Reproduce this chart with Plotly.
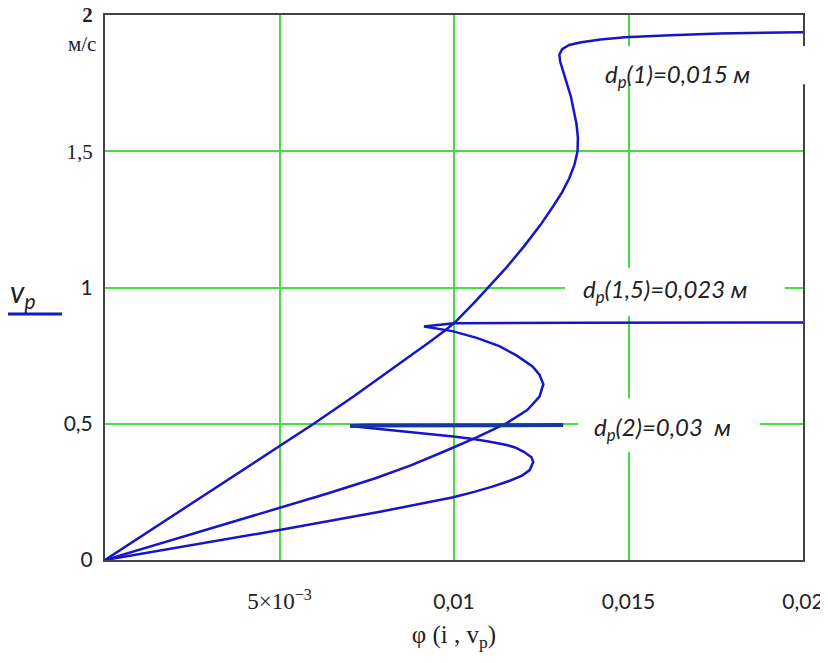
import plotly.graph_objects as go

# phi(i, v_p) vs v_p for three particle diameters
phi_d1 = [0, 0.0030, 0.0050, 0.00598, 0.00712, 0.00822, 0.0093, 0.00976, 0.01005, 0.01062,
          0.01098, 0.01148, 0.0120, 0.01248, 0.01285, 0.0131, 0.0133, 0.01345, 0.01354,
          0.01355, 0.01351, 0.01344, 0.01335, 0.01323, 0.01311, 0.01304, 0.01302, 0.0131,
          0.0133, 0.01365, 0.0142, 0.0149, 0.0162, 0.0176, 0.0200, 0.0206]
vp_d1 = [0, 0.25, 0.416, 0.50, 0.60, 0.70, 0.80, 0.844, 0.875, 0.95,
         1.00, 1.07, 1.15, 1.23, 1.30, 1.35, 1.40, 1.45, 1.50,
         1.55, 1.60, 1.65, 1.70, 1.75, 1.80, 1.83, 1.855, 1.875,
         1.89, 1.90, 1.91, 1.918, 1.926, 1.932, 1.937, 1.938]

phi_d15 = [0, 0.0050, 0.0064, 0.00775, 0.00878, 0.00975, 0.01065, 0.01148, 0.0121, 0.01245,
           0.01256, 0.01245, 0.01225, 0.0118, 0.0113, 0.01065, 0.00995, 0.00914,
           0.0100, 0.0135, 0.0206]
vp_d15 = [0, 0.19, 0.245, 0.30, 0.348, 0.40, 0.45, 0.50, 0.55, 0.60,
          0.645, 0.68, 0.71, 0.75, 0.785, 0.815, 0.84, 0.857,
          0.869, 0.871, 0.872]

phi_d2 = [0, 0.0050, 0.00788, 0.00998, 0.01058, 0.01112, 0.01158, 0.01195, 0.01217,
          0.01227, 0.01222, 0.0120, 0.01175, 0.01151, 0.01103, 0.0106, 0.00998, 0.00788,
          0.00702]
vp_d2 = [0, 0.110, 0.177, 0.230, 0.25, 0.27, 0.29, 0.31, 0.33,
         0.36, 0.377, 0.397, 0.413, 0.422, 0.434, 0.443, 0.453, 0.480,
         0.492]
phi_d2_tail = [0.00702, 0.0075, 0.01313]
vp_d2_tail = [0.492, 0.494, 0.495]

x_ticks = [0.005, 0.01, 0.015, 0.02]
x_labels = ["<span style='font-family:Liberation Serif;font-size:23px'>5×10<sup>−3</sup></span>",
            "0,01", "0,015", "0,02"]
y_ticks = [0, 0.5, 1, 1.5, 2]
y_labels = ["0", "0,5", "1",
            "<span style='font-family:Liberation Serif'>1,5</span>",
            "<span style='font-family:Liberation Serif'><b>2</b></span>"]

labels = ["d<sub>p</sub>(1)=0,015 м", "d<sub>p</sub>(1,5)=0,023 м", "d<sub>p</sub>(2)=0,03  м"]

BLUE = "#1616c8"
GREEN = "#44dd44"

fig = go.Figure()
for xs, ys in [(phi_d1, vp_d1), (phi_d15, vp_d15), (phi_d2, vp_d2)]:
    fig.add_trace(go.Scatter(x=xs, y=ys, mode="lines", line=dict(color=BLUE, width=2.5)))
fig.add_trace(go.Scatter(x=phi_d2_tail, y=vp_d2_tail, mode="lines",
                         line=dict(color="#123a9e", width=4)))

# white boxes behind the curve labels (they hide grid and frame)
boxes = [(0.668, 1.013, 0.873, 0.943), (0.659, 0.974, 0.448, 0.536), (0.678, 0.938, 0.198, 0.297)]
for x0, x1, y0, y1 in boxes:
    fig.add_shape(type="rect", xref="paper", yref="paper", x0=x0, x1=x1, y0=y0, y1=y1,
                  fillcolor="white", line_width=0, layer="above")

label_pos = [(0.820, 0.889), (0.803, 0.495), (0.799, 0.242)]
for txt, (ax, ay) in zip(labels, label_pos):
    fig.add_annotation(x=ax, y=ay, xref="paper", yref="paper", text="<i>" + txt + "</i>",
                       xanchor="center", yanchor="middle", showarrow=False,
                       font=dict(family="Lato", size=24, color="#222"))

# y "legend" v_p with blue line under it
fig.add_annotation(x=-0.1175, y=0.49, xref="paper", yref="paper",
                   text="<i>v<sub>p</sub></i>", showarrow=False,
                   xanchor="center", yanchor="middle",
                   font=dict(family="Lato", size=30, color="#222"))
fig.add_shape(type="line", xref="paper", yref="paper", x0=-0.1404, x1=-0.0616,
              y0=0.4514, y1=0.4514, line=dict(color=BLUE, width=3))
fig.add_annotation(x=-0.0105, y=0.946, xref="paper", yref="paper", text="м/с",
                   xanchor="right", yanchor="middle", showarrow=False,
                   font=dict(family="Liberation Serif", size=21, color="#222"))

# the page adds an 8 px body margin, so the figure is 8 px smaller and shifted
fig.update_layout(
    width=820, height=655,
    margin=dict(l=97, r=25, t=7, b=103),
    paper_bgcolor="white", plot_bgcolor="white",
    showlegend=False,
    font=dict(family="Lato", size=21, color="#222"),
    xaxis=dict(range=[0, 0.02], tickvals=x_ticks, ticktext=x_labels, automargin=False,
               showgrid=True, gridcolor=GREEN, gridwidth=2, zeroline=False,
               showline=True, linecolor="#444", linewidth=2, mirror=True,
               ticks="", ticklabelstandoff=22, ticklabeloverflow="allow",
               title=dict(text="<span style='font-family:Liberation Serif'>φ (i , v<sub>p</sub>)</span>",
                          font=dict(size=25), standoff=12)),
    yaxis=dict(range=[0, 2], tickvals=y_ticks, ticktext=y_labels, automargin=False,
               showgrid=True, gridcolor=GREEN, gridwidth=2, zeroline=False,
               showline=True, linecolor="#444", linewidth=2, mirror=True,
               ticks="", ticklabelstandoff=6, ticklabeloverflow="allow"),
)

fig.write_html("out.html")
